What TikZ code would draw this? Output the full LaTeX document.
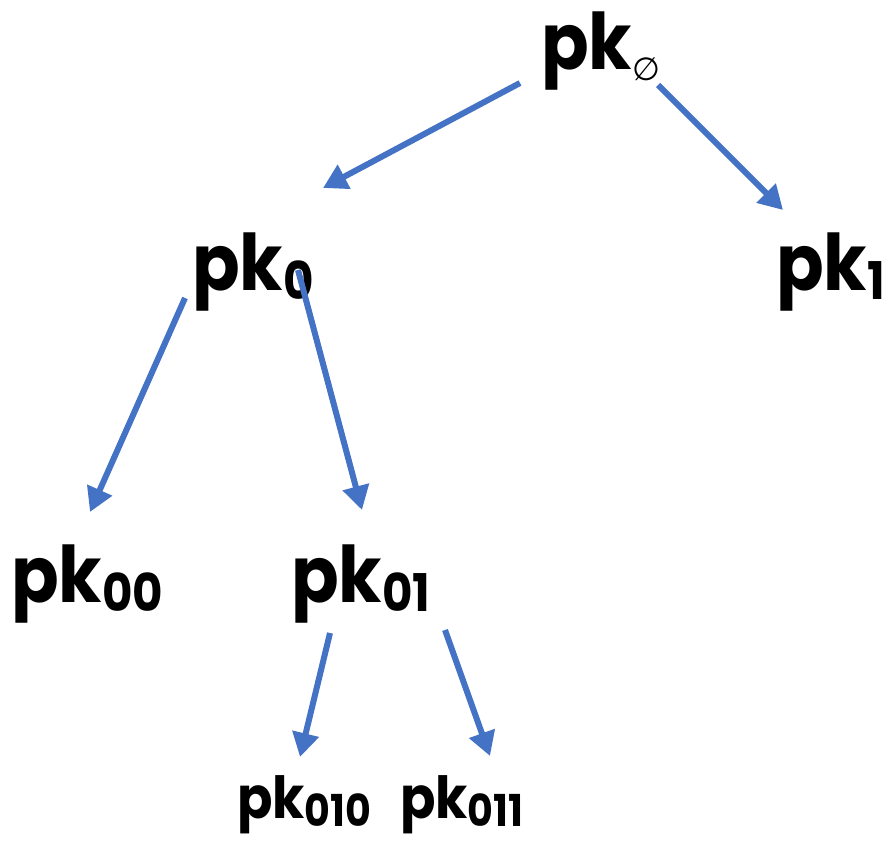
\documentclass[tikz,border=0pt]{standalone}
\usepackage{fontspec}
\setmainfont{Poppins}[BoldFont={* Bold}, Numbers=Lining]
\newfontfamily\symbolfont{DejaVu Sans}
\usetikzlibrary{arrows.meta}
\definecolor{arrowblue}{HTML}{4472C4}
\newcommand\pkbig[1]{\scalebox{0.9}[1]{\fontsize{78}{78}\selectfont\bfseries pk\raisebox{-9pt}{\fontsize{52}{52}\selectfont #1}}}
\newcommand\pksmall[1]{\scalebox{0.9}[1]{\fontsize{58}{58}\selectfont\bfseries pk\raisebox{-8pt}{\fontsize{44}{44}\selectfont #1}}}
\tikzset{
  lbl/.style={inner sep=0pt, anchor=base west},
  edge/.style={draw=arrowblue, line width=6pt, -{Triangle[length=24pt,width=26pt]}, fill=arrowblue}
}
\begin{document}
\begin{tikzpicture}[x=1pt,y=-1pt]
\useasboundingbox (0,0) rectangle (888,843);
\node[lbl] (r) at (541,70) {\scalebox{0.9}[1]{\fontsize{78}{78}\selectfont\bfseries pk}\raisebox{-10pt}{\symbolfont\fontsize{32}{32}\selectfont ∅}};
\node[lbl] (n0) at (192,290) {\pkbig{0}};
\node[lbl] (n1) at (776,290) {\pkbig{1}};
\node[lbl] (n00) at (11,602) {\pkbig{00}};
\node[lbl] (n01) at (291,602) {\pkbig{01}};
\node[lbl] (n010) at (237,818) {\pksmall{010}};
\node[lbl] (n011) at (400,818) {\pksmall{011}};
\coordinate (e1s) at (520,83);  \coordinate (e1t) at (323,188);
\coordinate (e2s) at (658,85);  \coordinate (e2t) at (783,210);
\coordinate (e3s) at (185,298); \coordinate (e3t) at (90,512);
\coordinate (e4s) at (298,270); \coordinate (e4t) at (362,510);
\coordinate (e5s) at (330,633); \coordinate (e5t) at (300,757);
\coordinate (e6s) at (445,630); \coordinate (e6t) at (490,756);
\draw[edge] (e1s) -- (e1t);
\draw[edge] (e2s) -- (e2t);
\draw[edge] (e3s) -- (e3t);
\draw[edge] (e4s) -- (e4t);
\draw[edge] (e5s) -- (e5t);
\draw[edge] (e6s) -- (e6t);
\end{tikzpicture}
\end{document}
